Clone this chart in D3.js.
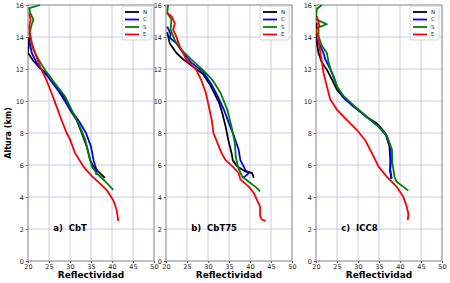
<!DOCTYPE html>
<html>
<head>
<meta charset="utf-8">
<script src="https://cdn.jsdelivr.net/npm/d3@7"></script>
<style>
  body { margin: 0; background: #fff; }
  svg { display: block; font-family: "DejaVu Sans", sans-serif; }
</style>
</head>
<body>
<div id="canvas"></div>
<script>
"use strict"

/* Data: reflectivity (dBZ) vs height (km), [value, height] pairs */
let seriesNames = ["N", "C", "S", "E"];
let seriesColors = ["#000000", "#0000ff", "#008000", "#ff0000"];
let xTicks = [20, 25, 30, 35, 40, 45, 50];
let yTicks = [0, 2, 4, 6, 8, 10, 12, 14, 16];
let panelTitles = ["a)  CbT", "b)  CbT75", "c)  ICC8"];

let cbtN = [[20.3,14.0],[20.2,13.6],[20.0,13.0],[21.3,12.5],[22.9,12.05],[24.4,11.7],[26.8,10.9],[28.4,10.3],[30.0,9.45],[31.6,8.8],[32.8,8.0],[34.0,7.15],[34.8,6.3],[35.6,5.9],[36.7,5.6],[38.3,5.2]];
let cbtC = [[20.3,13.8],[20.9,13.0],[22.5,12.15],[24.8,11.5],[27.6,10.5],[29.6,9.65],[32.0,8.8],[33.8,8.0],[35.0,7.15],[35.6,6.3],[36.3,5.7],[36.2,5.4]];
let cbtS = [[22.9,16.0],[20.3,15.8],[20.5,15.5],[21.3,15.1],[20.9,14.8],[20.3,14.2],[21.3,13.2],[22.5,12.6],[24.0,11.95],[26.4,11.1],[28.8,10.3],[30.4,9.45],[32.0,8.6],[33.6,7.6],[34.4,6.75],[35.2,5.9],[36.3,5.5],[38.3,5.0],[40.3,4.45]];
let cbtE = [[20.3,15.5],[20.6,15.1],[20.3,14.65],[20.5,14.2],[20.9,13.6],[21.7,13.0],[22.9,12.15],[24.4,11.3],[25.6,10.5],[26.8,9.65],[28.0,8.8],[29.2,8.0],[30.0,7.6],[31.2,6.75],[33.2,5.9],[35.2,5.3],[37.1,4.85],[38.7,4.45],[40.3,3.8],[41.1,3.2],[41.5,2.5]];

let cbt75N = [[20.3,14.3],[20.9,13.6],[22.5,13.0],[24.1,12.6],[26.4,12.15],[28.75,11.7],[30.3,11.1],[31.5,10.5],[32.7,9.85],[33.4,9.25],[34.2,8.4],[34.8,7.6],[35.6,6.75],[35.9,6.3],[37.0,5.9],[38.9,5.6],[40.5,5.5],[40.9,5.2]];
let cbt75C = [[20.3,14.65],[21.1,14.2],[20.9,13.95],[22.5,13.6],[24.1,13.0],[26.0,12.4],[28.75,11.85],[30.7,11.1],[32.3,10.3],[33.8,9.45],[35.0,8.6],[36.2,7.8],[37.3,6.95],[37.7,6.3],[38.9,5.7],[39.7,5.5],[38.9,5.3],[38.1,5.2]];
let cbt75S = [[20.5,16.0],[20.3,15.5],[21.3,15.1],[21.1,14.45],[22.1,13.8],[23.7,13.2],[26.0,12.6],[28.75,11.95],[31.1,11.3],[33.0,10.5],[34.6,9.45],[35.6,8.4],[36.4,7.35],[36.6,6.55],[37.1,5.9],[38.1,5.3],[39.7,4.95],[41.25,4.65],[42.4,4.35]];
let cbt75E = [[20.3,15.5],[21.3,15.3],[22.1,14.85],[21.7,14.45],[22.5,14.0],[23.3,13.4],[24.8,12.6],[27.2,11.95],[28.4,11.3],[29.5,10.5],[30.2,9.65],[30.9,8.8],[31.3,8.0],[32.6,7.15],[33.2,6.75],[34.2,6.3],[35.9,5.9],[37.3,5.5],[37.7,5.1],[39.7,4.65],[40.9,4.25],[41.6,3.85],[42.4,3.4],[42.4,2.8],[42.8,2.6],[43.75,2.5]];

let iccN = [[20.2,14.9],[20.0,14.3],[20.2,13.65],[20.6,13.0],[21.4,12.4],[22.6,11.95],[23.8,11.35],[25.0,10.7],[27.0,10.1],[30.1,9.45],[32.1,9.0],[34.5,8.6],[36.5,8.0],[37.5,7.15],[37.7,6.3],[37.65,5.7],[37.9,5.15]];
let iccC = [[20.0,13.85],[21.0,13.45],[21.8,13.0],[22.2,12.6],[23.0,12.2],[24.2,11.55],[25.0,10.9],[26.2,10.3],[28.9,9.65],[32.1,9.0],[34.9,8.4],[36.9,7.8],[37.7,7.15],[37.9,6.3],[37.65,5.7],[38.05,5.15]];
let iccS = [[21.4,16.0],[20.2,15.75],[20.0,15.1],[22.6,14.8],[20.6,14.6],[20.6,14.05],[21.4,13.45],[22.6,13.0],[23.0,12.4],[23.8,11.75],[25.0,10.9],[26.6,10.3],[29.3,9.65],[32.1,9.0],[34.9,8.4],[36.9,7.8],[38.1,6.95],[38.2,6.1],[38.7,5.25],[39.2,4.95],[42.0,4.4]];
let iccE = [[20.2,15.3],[20.8,14.7],[20.0,14.4],[20.5,14.05],[20.8,13.45],[21.3,12.6],[21.8,11.75],[22.6,10.9],[23.4,10.1],[25.0,9.45],[27.4,8.8],[29.7,8.2],[31.7,7.55],[33.3,6.75],[34.9,5.9],[36.9,5.25],[39.2,4.65],[40.8,4.0],[41.6,3.4],[42.0,2.95],[41.85,2.55]];

let panelData = [
    [cbtN, cbtC, cbtS, cbtE],
    [cbt75N, cbt75C, cbt75S, cbt75E],
    [iccN, iccC, iccS, iccE]
];

/* Layout */
let svgWidth = 450;
let svgHeight = 283;
let panelLeft = [28, 166, 316];
let panelWidth = 126;
let plotTop = 5;
let plotBottom = 261;

let svg = d3.select("#canvas")
    .append("svg")
    .attr("width", svgWidth)
    .attr("height", svgHeight);

let yScale = d3.scaleLinear()
    .domain([0, 16])
    .range([plotBottom, plotTop]);

panelData.forEach(function(series, p) {
    let x0 = panelLeft[p];
    let xScale = d3.scaleLinear()
        .domain([20, 50])
        .range([x0, x0 + panelWidth]);

    let g = svg.append("g");

    // grid
    g.selectAll(".gx")
        .data(xTicks)
        .join("line")
        .attr("x1", d => xScale(d)).attr("x2", d => xScale(d))
        .attr("y1", plotTop).attr("y2", plotBottom)
        .attr("stroke", "#c8c8f4")
        .attr("stroke-width", 1);
    g.selectAll(".gy")
        .data(yTicks)
        .join("line")
        .attr("x1", x0).attr("x2", x0 + panelWidth)
        .attr("y1", d => yScale(d)).attr("y2", d => yScale(d))
        .attr("stroke", "#c8c8f4")
        .attr("stroke-width", 1);

    // axes
    let xAxis = g.append("g")
        .attr("transform", "translate(0," + plotBottom + ")")
        .call(d3.axisBottom(xScale).tickValues(xTicks).tickSize(2).tickPadding(1));
    let yAxis = g.append("g")
        .attr("transform", "translate(" + x0 + ",0)")
        .call(d3.axisLeft(yScale).tickValues(yTicks).tickSize(2).tickPadding(2));
    [xAxis, yAxis].forEach(function(ax) {
        ax.select(".domain").remove();
        ax.selectAll("line").attr("stroke", "#555");
        ax.selectAll("text")
            .attr("fill", "#222")
            .style("font-size", "6.5px")
            .style("font-family", "DejaVu Sans");
    });

    // frame
    g.append("rect")
        .attr("x", x0).attr("y", plotTop)
        .attr("width", panelWidth).attr("height", plotBottom - plotTop)
        .attr("fill", "none")
        .attr("stroke", "#999")
        .attr("stroke-width", 1);

    // profiles
    let line = d3.line()
        .x(d => xScale(d[0]))
        .y(d => yScale(d[1]));
    let clipId = "clip" + p;
    g.append("clipPath").attr("id", clipId)
        .append("rect")
        .attr("x", x0).attr("y", plotTop - 1)
        .attr("width", panelWidth).attr("height", plotBottom - plotTop + 1);
    g.append("g")
        .attr("clip-path", "url(#" + clipId + ")")
        .selectAll("path")
        .data(series)
        .join("path")
        .attr("d", d => line(d))
        .attr("fill", "none")
        .attr("stroke", (d, i) => seriesColors[i])
        .attr("stroke-width", 1.8)
        .attr("stroke-linejoin", "round");

    // legend
    let lx = x0 + panelWidth - 32;
    let ly = plotTop + 1;
    g.append("rect")
        .attr("x", lx).attr("y", ly)
        .attr("width", 29).attr("height", 34)
        .attr("rx", 2)
        .attr("fill", "#fff")
        .attr("fill-opacity", 0.85)
        .attr("stroke", "#ccc")
        .attr("stroke-width", 0.8);
    seriesNames.forEach(function(name, i) {
        let ry = ly + 6 + i * 7.5;
        g.append("line")
            .attr("x1", lx + 3).attr("x2", lx + 17)
            .attr("y1", ry).attr("y2", ry)
            .attr("stroke", seriesColors[i])
            .attr("stroke-width", 1.8);
        g.append("text")
            .attr("x", lx + 21).attr("y", ry)
            .attr("dominant-baseline", "middle")
            .style("font-size", "5.5px")
            .attr("fill", "#222")
            .text(name);
    });

    // panel title
    g.append("text")
        .attr("x", xScale(26))
        .attr("y", yScale(1.9))
        .style("font-size", "8.5px")
        .style("font-weight", "bold")
        .style("white-space", "pre")
        .attr("xml:space", "preserve")
        .text(panelTitles[p]);

    // x label
    g.append("text")
        .attr("x", x0 + panelWidth / 2)
        .attr("y", 278)
        .attr("text-anchor", "middle")
        .style("font-size", "9px")
        .style("font-weight", "bold")
        .text("Reflectividad");
});

/* Y axis label */
svg.append("text")
    .attr("transform", "translate(11," + ((plotTop + plotBottom) / 2) + ") rotate(-90)")
    .attr("text-anchor", "middle")
    .style("font-size", "8px")
    .style("font-weight", "bold")
    .text("Altura (km)");
</script>
</body>
</html>
